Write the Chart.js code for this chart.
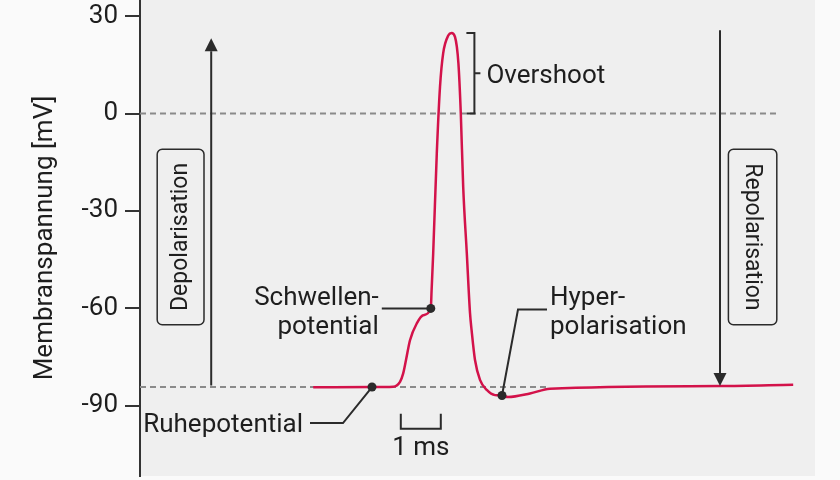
<!DOCTYPE html>
<html>
<head>
<meta charset="utf-8">
<script src="https://cdn.jsdelivr.net/npm/chart.js@4/dist/chart.umd.min.js"></script>
<style>
  html, body { margin: 0; padding: 0; background: #fafafa; }
  #wrap { width: 840px; height: 480px; }
</style>
</head>
<body>
<div id="wrap"><canvas id="apChart" width="840" height="480"></canvas></div>
<script>
// Aktionspotential: Zeit in ms, Membranspannung in mV
const timeMs = [4.33, 5.8, 6.33, 6.5, 6.58, 6.65, 6.75, 6.92, 7.08, 7.27, 7.29, 7.33, 7.42, 7.5, 7.58, 7.71, 7.79, 7.875, 7.96, 8.02, 8.08, 8.17, 8.25, 8.29, 8.375, 8.5, 8.67, 8.875, 9.05, 9.2, 9.75, 10.25, 14.5, 16.33];
const membraneMv = [-84.3, -84.2, -84.1, -82.6, -80, -75.9, -69.8, -64.6, -62.1, -60, -54.4, -43, -12.2, 8.2, 18.6, 24.1, 24.8, 23.6, 15.5, 0, -22.6, -43, -61.4, -66.7, -75.9, -82, -85.1, -86.7, -86.8, -87.3, -86.2, -84.7, -83.9, -83.5];

// markierte Punkte: Ruhepotential, Schwellenpotential, Hyperpolarisation
const markerTimes = [5.8, 7.27, 9.05];
const markerMv = [-84.2, -60, -86.8];

// gestrichelte Bezugslinien
const zeroLineTimes = [0, 15.9];
const zeroLineMv = [0, 0];
const restLineTimes = [0, 10.2];
const restLineMv = [-84.2, -84.2];

const yTickValues = [30, 0, -30, -60, -90];

const textColor = '#1e1e1e';
const inkColor = '#2b2b2b';

const toPoints = (xs, ys) => xs.map((x, i) => ({ x: x, y: ys[i] }));

const background = {
  id: 'background',
  beforeDraw(chart) {
    const { ctx, chartArea } = chart;
    ctx.save();
    ctx.fillStyle = '#fafafa';
    ctx.fillRect(0, 0, chart.width, chart.height);
    ctx.fillStyle = '#efefef';
    ctx.fillRect(chartArea.left, 0, chartArea.right - chartArea.left, chartArea.bottom);
    ctx.restore();
  }
};

function drawArrow(ctx, x, yFrom, yTo) {
  const dir = yTo < yFrom ? -1 : 1;
  const head = 13;
  ctx.beginPath();
  ctx.moveTo(x, yFrom);
  ctx.lineTo(x, yTo - dir * head);
  ctx.stroke();
  ctx.beginPath();
  ctx.moveTo(x, yTo);
  ctx.lineTo(x - 6.5, yTo - dir * head);
  ctx.lineTo(x + 6.5, yTo - dir * head);
  ctx.closePath();
  ctx.fill();
}

function drawBoxLabel(ctx, x1, y1, x2, y2, text, angle) {
  ctx.save();
  ctx.lineWidth = 1.5;
  ctx.fillStyle = '#efefef';
  ctx.beginPath();
  ctx.roundRect(x1, y1, x2 - x1, y2 - y1, 5);
  ctx.fill();
  ctx.stroke();
  ctx.translate((x1 + x2) / 2, (y1 + y2) / 2);
  ctx.rotate(angle);
  ctx.fillStyle = textColor;
  ctx.font = '23px Roboto';
  ctx.textAlign = 'center';
  ctx.textBaseline = 'middle';
  ctx.fillText(text, 0, 1);
  ctx.restore();
}

const annotations = {
  id: 'annotations',
  afterDatasetsDraw(chart) {
    const { ctx, scales: { x, y } } = chart;
    const px = t => x.getPixelForValue(t);
    const py = v => y.getPixelForValue(v);

    ctx.save();
    ctx.strokeStyle = inkColor;
    ctx.fillStyle = inkColor;
    ctx.lineWidth = 2;

    // Pfeile
    drawArrow(ctx, px(1.78), py(-83.7), py(23.2));
    drawArrow(ctx, px(14.5), py(25.6), py(-83.9));

    // Kästchen mit gedrehtem Text
    drawBoxLabel(ctx, px(0.43), py(-11), px(1.6), py(-65), 'Depolarisation', -Math.PI / 2);
    drawBoxLabel(ctx, px(14.71), py(-11), px(15.92), py(-65), 'Repolarisation', Math.PI / 2);

    // Overshoot-Klammer
    const bx = px(8.36), bTop = py(24.8), bBot = py(0);
    ctx.beginPath();
    ctx.moveTo(bx - 8, bTop); ctx.lineTo(bx, bTop); ctx.lineTo(bx, bBot); ctx.lineTo(bx - 8, bBot);
    ctx.moveTo(bx, (bTop + bBot) / 2); ctx.lineTo(bx + 6, (bTop + bBot) / 2);
    ctx.stroke();

    // Schwellenpotential-Linie
    const sx = px(markerTimes[1]), sy = py(markerMv[1]);
    ctx.beginPath();
    ctx.moveTo(sx - 49, sy); ctx.lineTo(sx, sy);
    ctx.stroke();

    // Hyperpolarisation-Linie
    const hx = px(markerTimes[2]), hy = py(markerMv[2]);
    ctx.beginPath();
    ctx.moveTo(hx + 45, hy - 86); ctx.lineTo(hx + 16, hy - 86); ctx.lineTo(hx, hy);
    ctx.stroke();

    // Ruhepotential-Linie
    const rx = px(markerTimes[0]), ry = py(markerMv[0]);
    ctx.beginPath();
    ctx.moveTo(rx - 62, ry + 36); ctx.lineTo(rx - 29, ry + 36); ctx.lineTo(rx, ry);
    ctx.stroke();

    // Punkte auf der Kurve
    markerTimes.forEach((t, i) => {
      ctx.beginPath();
      ctx.arc(px(t), py(markerMv[i]), 4.5, 0, Math.PI * 2);
      ctx.fill();
    });

    // Massstab 1 ms
    const m1 = px(6.52), m2 = px(7.52), mb = py(-83.8) + 43;
    ctx.beginPath();
    ctx.moveTo(m1, mb - 15); ctx.lineTo(m1, mb); ctx.lineTo(m2, mb); ctx.lineTo(m2, mb - 15);
    ctx.stroke();

    // Beschriftungen
    ctx.fillStyle = textColor;
    ctx.font = '26px Roboto';
    ctx.textBaseline = 'alphabetic';
    ctx.textAlign = 'left';
    ctx.fillText('Overshoot', bx + 12, (bTop + bBot) / 2 + 9.5);
    ctx.fillText('Hyper-', hx + 48, hy - 90);
    ctx.fillText('polarisation', hx + 48, hy - 61);
    ctx.fillText('Ruhepotential', px(0.08), ry + 45);
    ctx.textAlign = 'right';
    ctx.fillText('Schwellen-', sx - 52, sy - 3);
    ctx.fillText('potential', sx - 52, sy + 26);
    ctx.textAlign = 'center';
    ctx.fillText('1 ms', (m1 + m2) / 2, mb + 26);
    ctx.restore();
  }
};

let chart;

function initChart() {
  const ctx = document.getElementById('apChart').getContext('2d');
  const flatLine = { pointRadius: 0, pointHoverRadius: 0, pointBorderWidth: 0, pointHitRadius: 0 };
  chart = new Chart(ctx, {
    type: 'line',
    data: {
      datasets: [
        Object.assign({
          label: 'Membranspannung',
          data: toPoints(timeMs, membraneMv),
          borderColor: '#d3124a',
          borderWidth: 2.5,
          cubicInterpolationMode: 'monotone'
        }, flatLine),
        Object.assign({
          label: '0 mV',
          data: toPoints(zeroLineTimes, zeroLineMv),
          borderColor: '#8a8a8a',
          borderWidth: 2,
          borderDash: [6, 4]
        }, flatLine),
        Object.assign({
          label: 'Ruhe',
          data: toPoints(restLineTimes, restLineMv),
          borderColor: '#8a8a8a',
          borderWidth: 2,
          borderDash: [6, 4]
        }, flatLine)
      ]
    },
    options: {
      responsive: false,
      animation: false,
      events: [],
      layout: { padding: { top: 0, right: 25, bottom: 4, left: 0 } },
      plugins: {
        legend: { display: false },
        tooltip: { enabled: false }
      },
      scales: {
        x: {
          type: 'linear',
          display: false,
          min: 0,
          max: 16.875
        },
        y: {
          min: -111.6,
          max: 34.95,
          afterBuildTicks: (scale) => {
            scale.ticks = yTickValues.map(v => ({ value: v }));
          },
          afterFit: (scale) => {
            scale.width = 140;
            scale.paddingTop = 0;
            scale.paddingBottom = 0;
          },
          border: { display: true, color: '#333', width: 2 },
          grid: {
            drawOnChartArea: false,
            drawTicks: true,
            tickLength: 15,
            color: '#333',
            lineWidth: 2
          },
          ticks: {
            color: textColor,
            padding: 7,
            font: { family: 'Roboto', size: 26 }
          },
          title: {
            display: true,
            text: 'Membranspannung [mV]',
            color: textColor,
            padding: { top: 30, bottom: 0 },
            font: { family: 'Roboto', size: 26 }
          }
        }
      }
    },
    plugins: [background, annotations]
  });
}

document.fonts.load('26px Roboto').then(initChart, initChart);
</script>
</body>
</html>
